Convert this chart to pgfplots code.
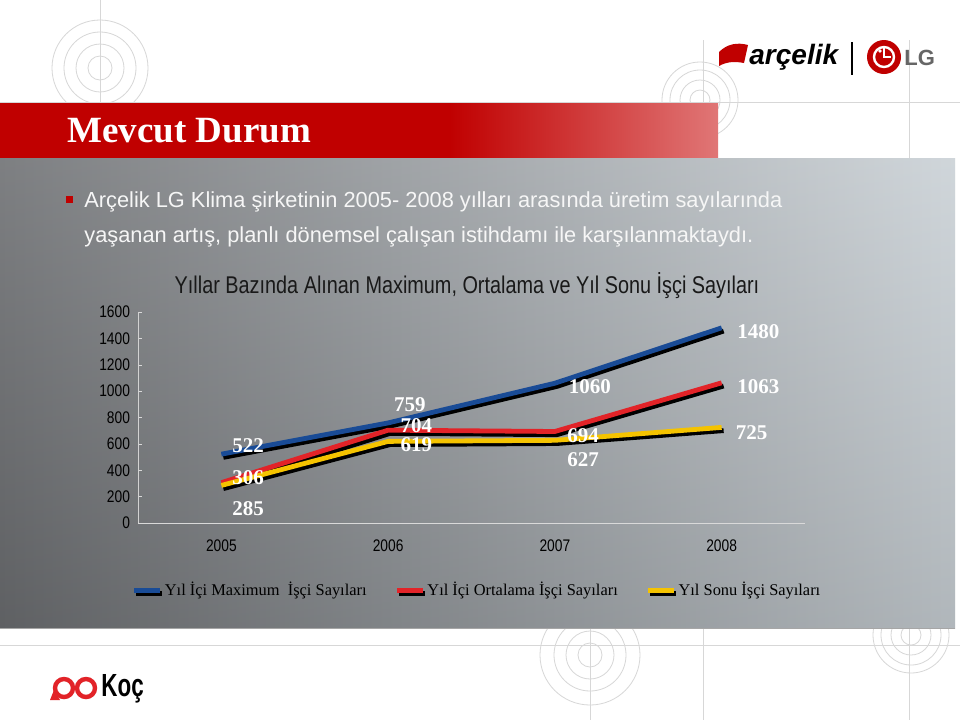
\documentclass[border=0pt]{standalone}
\usepackage{pgfplots}
\pgfplotsset{compat=1.18}
\usepackage{fontspec}
\setmainfont{Liberation Serif}
\newfontfamily\nsans[FakeStretch=0.82]{Liberation Sans}
\newfontfamily\lsans{Liberation Sans}
\newfontfamily\csans[FakeStretch=0.7]{Liberation Sans}

\definecolor{maxblue}{RGB}{25,75,150}
\definecolor{avgred}{RGB}{226,35,40}
\definecolor{endyellow}{RGB}{245,195,0}
\definecolor{barred}{RGB}{192,0,0}
\definecolor{barpink}{RGB}{224,118,118}
\definecolor{panelL}{RGB}{108,110,113}
\definecolor{panelM}{RGB}{140,142,145}
\definecolor{panelR}{RGB}{202,209,214}
\definecolor{deco}{RGB}{215,215,215}

\begin{document}
\begin{tikzpicture}
\useasboundingbox (0pt,0pt) rectangle (480pt,-360pt);
\begin{scope}[x=0.5pt,y=-0.5pt]
  \fill[white] (0,0) rectangle (960,720);
  % decoration
  \draw[deco] (0,102) -- (960,102);
  \draw[deco] (0,645) -- (960,645);
  \draw[deco] (100,0) -- (100,103);
  \draw[deco] (703,40) -- (703,720);
  \draw[deco] (909,40) -- (909,720);
  \draw[deco] (590,600) -- (590,720);
  \foreach \r in {12,24,36,48} \draw[deco] (100,68) circle (\r);
  \foreach \r in {10,20,30,38} \draw[deco] (700,100) circle (\r);
  \foreach \r in {12,24,36,50} \draw[deco] (590,655) circle (\r);
  \foreach \r in {10,20,30,38} \draw[deco] (911,635) circle (\r);
  % title bar
  \fill[barred] (0,103) rectangle (450,158);
  \shade[left color=barred, right color=barpink] (449,103) rectangle (718,158);
  \node[anchor=base west, inner sep=0, text=white, font=\bfseries\fontsize{18.5}{20}\selectfont]
    at (67,142) {Mevcut Durum};
  % panel
  \shade[left color=panelL, middle color=panelM, right color=panelR] (0,158) rectangle (955,628);
  \shade[top color=white, bottom color=black, opacity=0.12] (0,158) rectangle (955,628);
  \draw[gray!70] (0,628) -- (955,628);
  % bullet text
  \fill[barred] (66,196) rectangle (73,203);
  \node[anchor=base west, inner sep=0, text=white!93!gray, font=\lsans\fontsize{10.9}{12}\selectfont]
    at (84,207) {Arçelik LG Klima şirketinin 2005- 2008 yılları arasında üretim sayılarında};
  \node[anchor=base west, inner sep=0, text=white!93!gray, font=\lsans\fontsize{10.9}{12}\selectfont]
    at (84,242) {yaşanan artış, planlı dönemsel çalışan istihdamı ile karşılanmaktaydı.};
  % chart title
  \node[anchor=base, inner sep=0, text=black!90, font=\nsans\fontsize{12.1}{13}\selectfont]
    at (467,293) {Yıllar Bazında Alınan Maximum, Ortalama ve Yıl Sonu İşçi Sayıları};
  % arcelik / LG logo
  \fill[barred] (719,52) .. controls (727,44) and (737,42) .. (748,45) -- (744,63) .. controls (734,61) and (726,62) .. (719,66) -- cycle;
  \node[anchor=base west, inner sep=0, font=\lsans\bfseries\itshape\fontsize{14}{15}\selectfont]
    at (749,64) {arçelik};
  \draw[black, line width=1pt] (852,42) -- (852,75);
  \fill[barred] (884,57) circle (17);
  \draw[white, line width=1.2pt] (884,57) circle (10);
  \fill[white] (880,51) circle (1.8);
  \draw[white, line width=1pt] (884,46) -- (884,57) -- (891,57);
  \node[anchor=west, inner sep=0, text=gray!80!black, font=\lsans\bfseries\fontsize{11}{12}\selectfont]
    at (904,58) {LG};
  % Koc logo
  \draw[avgred, line width=2.2pt] (64,688) circle (9);
  \draw[avgred, line width=2.2pt] (86,688) circle (9);
  \fill[avgred] (54,690) -- (60,700) -- (50,700) -- cycle;
  \node[anchor=west, inner sep=0, font=\csans\bfseries\fontsize{16}{17}\selectfont]
    at (101,689) {Koç};
\end{scope}

\begin{axis}[
  at={(69pt,-261.5pt)}, anchor=south west,
  scale only axis, width=333.5pt, height=105.5pt,
  xmin=-0.5, xmax=3.5, ymin=0, ymax=1600,
  xtick={0,1,2,3}, xticklabels={2005,2006,2007,2008},
  minor xtick={0.5,1.5,2.5},
  ytick={0,200,...,1600},
  xtick style={draw=none},
  ytick style={white!70!gray},
  major tick length=2pt, minor tick length=2pt,
  axis x line*=bottom, axis y line*=left,
  x axis line style={color=white!70!gray, -},
  y axis line style={color=white!65!gray, -},
  minor tick style={white!70!gray},
  tick label style={font=\nsans\fontsize{8.4}{9}\selectfont},
  /pgf/number format/assume math mode=true,
  /pgf/number format/set thousands separator={},
  xticklabel style={yshift=-5pt},
  yticklabel style={xshift=-0.5pt},
  clip=false,
  legend style={at={(0.507,-0.318)}, anchor=center, draw=none, fill=none,
    nodes={inner xsep=0pt},
    font=\fontsize{8.2}{9}\selectfont, /tikz/every even column/.append style={column sep=14pt}},
  legend columns=3, legend cell align=left,
  legend image code/.code={
    \draw[black, line width=2.4pt] (1pt,-1.6pt) -- (14pt,-1.6pt);
    \draw[#1] (0pt,0pt) -- (13pt,0pt);
  },
]
\addplot[black, line width=2.4pt, xshift=1pt, yshift=-1.6pt, forget plot] coordinates {(0,522)(1,759)(2,1060)(3,1480)};
\addplot[maxblue, line width=2.4pt] coordinates {(0,522)(1,759)(2,1060)(3,1480)};
\addlegendentry{Yıl İçi Maximum~~İşçi Sayıları}
\addplot[black, line width=2.4pt, xshift=1pt, yshift=-1.6pt, forget plot] coordinates {(0,306)(1,704)(2,694)(3,1063)};
\addplot[avgred, line width=2.4pt] coordinates {(0,306)(1,704)(2,694)(3,1063)};
\addlegendentry{Yıl İçi Ortalama İşçi Sayıları}
\addplot[black, line width=2.4pt, xshift=1pt, yshift=-1.6pt, forget plot] coordinates {(0,285)(1,619)(2,627)(3,725)};
\addplot[endyellow, line width=2.4pt] coordinates {(0,285)(1,619)(2,627)(3,725)};
\addlegendentry{Yıl Sonu İşçi Sayıları}
\addplot[draw=none, forget plot, nodes near coords, point meta=explicit symbolic,
  nodes near coords style={anchor=center, inner sep=0, text=white, font=\bfseries\fontsize{10.5}{11}\selectfont}]
  table[meta=lab] {
x y lab
0.16 583 522
0.16 341 306
0.16 106 285
1.13 894 759
1.17 735 704
1.17 591 619
2.21 1038 1060
2.17 659 694
2.17 477 627
3.22 1455 1480
3.22 1038 1063
3.18 689 725
};
\end{axis}
\end{tikzpicture}
\end{document}
